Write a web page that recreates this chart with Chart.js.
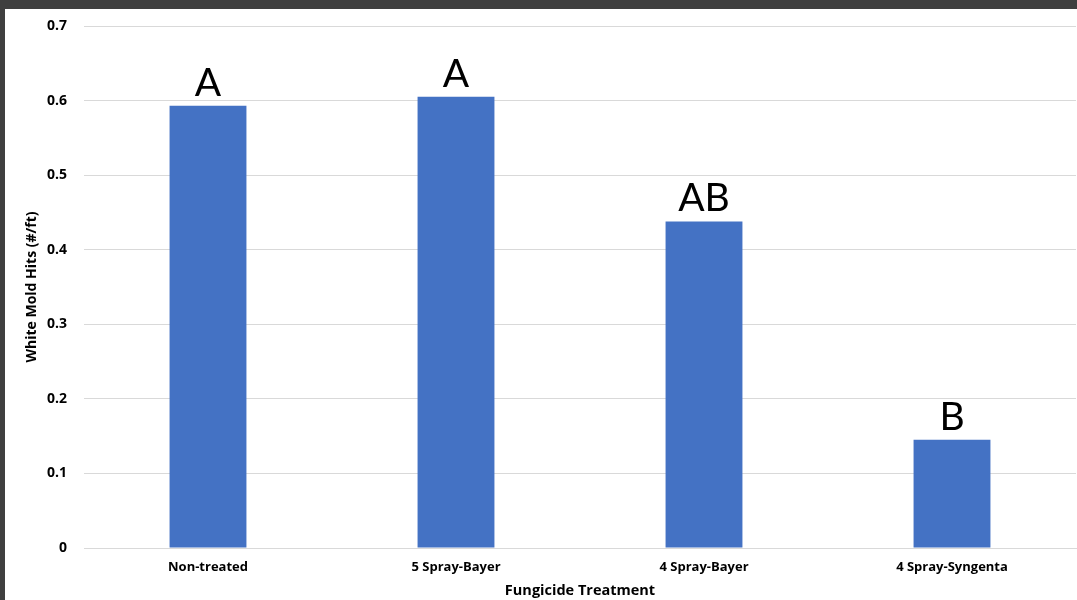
<!DOCTYPE html>
<html><head><meta charset="utf-8">
<script src="https://cdn.jsdelivr.net/npm/chart.js@4/dist/chart.umd.min.js"></script>
<style>
html,body{margin:0;padding:0;background:#3f3f3f;width:1077px;height:600px;overflow:hidden}
#wrap{position:absolute;left:5px;top:9px;width:1072px;height:591px;background:#fff}
</style></head><body>
<div id="wrap"><canvas id="c" width="1072" height="591"></canvas></div>
<script>
const categories = ["Non-treated", "5 Spray-Bayer", "4 Spray-Bayer", "4 Spray-Syngenta"];
const values = [0.593, 0.605, 0.438, 0.145];
const letters = ["A", "A", "AB", "B"];
const yTicks = [0, 0.1, 0.2, 0.3, 0.4, 0.5, 0.6, 0.7];

const letterPlugin = {
  id: 'letters',
  afterDatasetsDraw(chart) {
    const ctx = chart.ctx;
    const meta = chart.getDatasetMeta(0);
    ctx.save();
    ctx.font = '39px Lato, "Open Sans", sans-serif';
    ctx.fillStyle = '#000';
    ctx.textAlign = 'center';
    ctx.textBaseline = 'alphabetic';
    meta.data.forEach((bar, i) => {
      ctx.fillText(letters[i], bar.x, bar.y - 10);
    });
    ctx.restore();
  }
};

new Chart(document.getElementById('c'), {
  type: 'bar',
  data: { labels: categories, datasets: [{ data: values, backgroundColor: '#4472c4', barPercentage: 0.31, categoryPercentage: 1 }] },
  options: {
    responsive: false, animation: false,
    layout: { padding: { top: 17, right: 1, left: 19, bottom: 0 } },
    plugins: { legend: { display: false }, tooltip: { enabled: false } },
    scales: {
      x: {
        afterFit(scale) { scale.height = 52; },
        grid: { display: false, drawTicks: false },
        border: { display: true, color: '#d9d9d9', width: 1 },
        ticks: { color: '#000', font: { family: '"Open Sans", sans-serif', size: 13, weight: 'bold' }, padding: 11 },
        title: { display: true, text: 'Fungicide Treatment', color: '#000', font: { family: '"Open Sans", sans-serif', size: 14.5, weight: 'bold' }, padding: { top: 0, bottom: 0 } }
      },
      y: {
        min: 0, max: 0.7,
        afterBuildTicks(scale) { scale.ticks = yTicks.map(v => ({ value: v })); },
        afterFit(scale) { scale.width = 60; scale.paddingTop = 0; scale.paddingBottom = 0; },
        grid: { color: '#d9d9d9', drawTicks: false },
        border: { display: false },
        ticks: { color: '#000', font: { family: '"Open Sans", sans-serif', size: 14, weight: 'bold' }, padding: 17,
          callback: v => v === 0 ? '0' : v.toFixed(1) },
        title: { display: true, text: 'White Mold Hits (#/ft)', color: '#000', font: { family: '"Open Sans", sans-serif', size: 14, weight: 'bold' }, padding: { top: 0, bottom: 0 } }
      }
    }
  },
  plugins: [letterPlugin]
});
</script></body></html>
